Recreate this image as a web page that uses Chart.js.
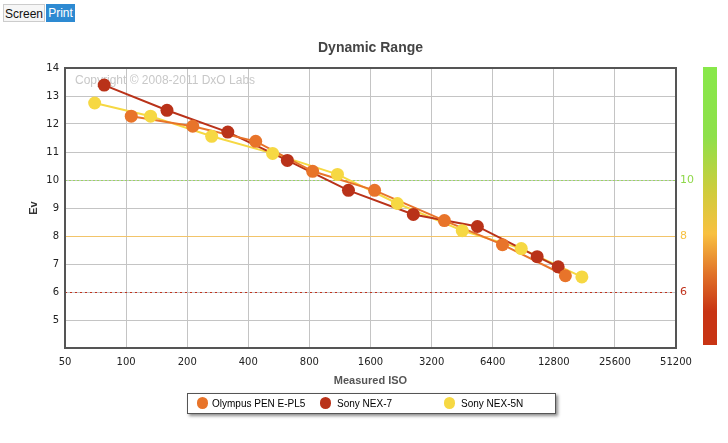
<!DOCTYPE html>
<html><head><meta charset="utf-8">
<script src="https://cdn.jsdelivr.net/npm/chart.js@4"></script>
<style>
html,body{margin:0;padding:0;background:#fff;width:728px;height:443px;overflow:hidden;font-family:"Liberation Sans",Arial,sans-serif;}
#wrap{position:absolute;left:0;top:0;width:728px;height:443px;}
.btn{position:absolute;top:4px;height:18px;font-size:12px;line-height:18px;box-sizing:border-box;}
#bs{left:3px;width:42px;border:1px solid #ccc;background:#f6f6f6;color:#111;text-align:center;}
#bp{left:46px;width:29px;background:#2d8ad2;color:#fff;text-align:center;}
#legend{position:absolute;left:187px;top:393px;width:367px;height:19px;border:1px solid #555;background:#fff;box-shadow:2px 2px 3px rgba(0,0,0,0.45);font-size:10px;}
.li{position:absolute;top:2px;line-height:15px;}
.dot{position:absolute;top:3px;width:11px;height:12px;border-radius:6px;}
</style></head><body>
<div id="wrap"><canvas id="c" width="728" height="443"></canvas></div>
<div class="btn" id="bs">Screen</div><div class="btn" id="bp">Print</div>
<div id="legend"></div>
<script>
const xTicks = [50,100,200,400,800,1600,3200,6400,12800,25600,51200];
const seriesNames = ["Olympus PEN E-PL5","Sony NEX-7","Sony NEX-5N"];
const seriesColors = ["#e8742a","#b93219","#f6d843"];
const olympusISO = [106,213,435,830,1676,3700,7150,14600];
const olympusEv  = [12.28,11.92,11.38,10.31,9.63,8.55,7.69,6.58];
const nex7ISO = [78,159,317,623,1246,2600,5380,10600,13450];
const nex7Ev  = [13.39,12.49,11.71,10.70,9.63,8.77,8.34,7.26,6.90];
const nex5nISO = [70,132,264,527,1100,2170,4530,8850,17600];
const nex5nEv  = [12.75,12.28,11.56,10.95,10.20,9.16,8.19,7.55,6.54];
const refLines = [{v:10,color:"#9ad462",label:"10",lc:"#8fd84a",dash:[2,2]},{v:8,color:"#f2c46a",label:"8",lc:"#f7c140",dash:[]},{v:6,color:"#c0321c",label:"6",lc:"#c0321c",dash:[2,3]}];

function pts(xs,ys){return xs.map((x,i)=>({x:x,y:ys[i]}));}
const dataSets=[pts(olympusISO,olympusEv),pts(nex7ISO,nex7Ev),pts(nex5nISO,nex5nEv)];

const lg=document.getElementById('legend');
const lpos=[[9,24],[132,149],[256,273]];
seriesNames.forEach((n,i)=>{
  const d=document.createElement('div');d.className='dot';d.style.left=lpos[i][0]+'px';d.style.background=seriesColors[i];lg.appendChild(d);
  const t=document.createElement('div');t.className='li';t.style.left=lpos[i][1]+'px';t.textContent=n;lg.appendChild(t);
});

const deco={
  id:'deco',
  beforeDatasetsDraw(ch){
    const c=ch.ctx,a=ch.chartArea,y=ch.scales.y;
    c.save();
    refLines.forEach(r=>{
      const py=Math.round(y.getPixelForValue(r.v))+0.5;
      c.strokeStyle=r.color;c.lineWidth=1;c.setLineDash(r.dash);
      c.beginPath();c.moveTo(a.left,py);c.lineTo(a.right,py);c.stroke();
    });
    c.setLineDash([]);
    c.font='12px "Liberation Sans",Arial,sans-serif';c.fillStyle='#c8c8c8';c.textBaseline='middle';c.textAlign='left';
    c.fillText('Copyright © 2008-2011 DxO Labs',a.left+10,a.top+13);
    c.restore();
  },
  afterDraw(ch){
    const c=ch.ctx,a=ch.chartArea,y=ch.scales.y;
    c.save();
    c.strokeStyle='#555';c.lineWidth=2;
    c.strokeRect(a.left,a.top,a.right-a.left,a.bottom-a.top);
    c.font='11px "DejaVu Sans",Verdana,sans-serif';c.textBaseline='middle';c.textAlign='left';
    refLines.forEach(r=>{c.fillStyle=r.lc;c.fillText(r.label,a.right+4,y.getPixelForValue(r.v));});
    c.fillStyle='#444';c.textAlign='center';c.font='bold 14px "Liberation Sans",Arial,sans-serif';
    c.fillText('Dynamic Range',(a.left+a.right)/2,48);
    c.font='bold 11px "Liberation Sans",Arial,sans-serif';c.fillStyle='#555';
    c.fillText('Measured ISO',(a.left+a.right)/2,381);
    c.translate(34,(a.top+a.bottom)/2);c.rotate(-Math.PI/2);c.fillStyle='#333';
    c.fillText('Ev',0,0);
    c.restore();
    c.save();
    const g=c.createLinearGradient(0,67,0,345);
    g.addColorStop(0,'#88e84a');g.addColorStop(0.25,'#8ee04a');g.addColorStop(0.45,'#d0cc3c');
    g.addColorStop(0.6,'#f8c040');g.addColorStop(0.75,'#e07028');g.addColorStop(0.88,'#c83414');g.addColorStop(1,'#c83414');
    c.fillStyle=g;c.fillRect(703,67,14,278);
    c.restore();
  }
};

const lineSets=dataSets.map((d,i)=>({label:seriesNames[i],data:d,order:10,borderColor:seriesColors[i],backgroundColor:seriesColors[i],borderWidth:2,pointRadius:0,pointHoverRadius:0,tension:0}));
const pointSets=dataSets.map((d,i)=>({label:seriesNames[i]+' pts',data:d,order:1,showLine:false,borderColor:seriesColors[i],backgroundColor:seriesColors[i],pointRadius:6.5,pointHoverRadius:6.5,pointBorderWidth:0}));

new Chart(document.getElementById('c'),{
  type:'line',
  data:{datasets:lineSets.concat(pointSets)},
  options:{
    responsive:false,animation:false,events:[],
    layout:{padding:{left:0,top:68,right:52,bottom:65}},
    plugins:{legend:{display:false},title:{display:false},tooltip:{enabled:false}},
    scales:{
      x:{type:'logarithmic',min:50,max:51200,
        afterBuildTicks(s){s.ticks=xTicks.map(v=>({value:v}));},
        afterFit(s){s.height=30;},
        grid:{color:'#c4c4c4',drawTicks:false},border:{display:false},
        ticks:{autoSkip:false,maxRotation:0,padding:8,color:'#222',font:{family:'"DejaVu Sans",Verdana,sans-serif',size:10},callback:(v)=>String(v)}},
      y:{type:'linear',min:4,max:14,
        afterFit(s){s.width=65;},
        grid:{color:'#c4c4c4',drawTicks:false},border:{display:false},
        ticks:{stepSize:1,padding:6,color:'#222',font:{family:'"DejaVu Sans",Verdana,sans-serif',size:10},callback:(v)=>v===4?'':String(v)}}
    }
  },
  plugins:[deco]
});
</script></body></html>
